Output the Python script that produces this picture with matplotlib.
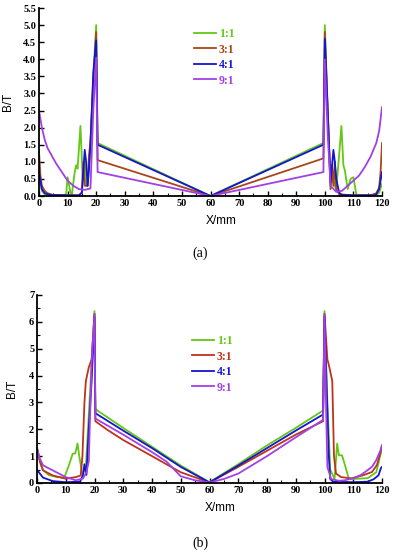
import numpy as np
import matplotlib.pyplot as plt
from matplotlib.ticker import MultipleLocator, FormatStrFormatter

# ratio labels and colours
labels = ["1:1", "3:1", "4:1", "9:1"]
colors_a = ["#62c814", "#a8461a", "#1414d2", "#a040e6"]
colors_b = ["#62c814", "#c0321a", "#1414d2", "#a040e6"]

# (a) flux density B/T along X/mm
xa_11 = [0, 1, 2, 4, 8, 9.5, 10, 11, 11.5, 12.5, 13, 13.5, 14.5, 15.3, 16, 16.5, 17, 18, 19, 20, 20.5,
         60, 99.5, 100, 101, 102, 103, 103.5, 104, 105, 105.8, 106.5, 107, 108, 109, 110, 111, 112, 118, 119, 120]
ya_11 = [0.6, 0.15, 0.05, 0.02, 0.02, 0.05, 0.55, 0.1, 0.05, 0.7, 0.9, 0.8, 2.05, 0.5, 1.0, 0.3, 0.3, 1.5, 3.5, 5.0, 1.55,
         0.0, 1.55, 5.0, 2.5, 0.3, 0.5, 0.3, 0.2, 1.2, 2.05, 0.9, 0.75, 0.2, 0.5, 0.55, 0.05, 0.02, 0.02, 0.1, 0.35]

xa_31 = [0, 0.5, 1, 2, 3, 5, 10, 14, 15, 15.5, 16, 17, 17.5, 18, 19, 20, 20.5,
         60, 99.5, 100, 101, 102, 102.5, 103, 103.5, 104, 105, 110, 116, 118, 119, 119.5, 120]
ya_31 = [1.3, 0.6, 0.3, 0.15, 0.08, 0.03, 0.02, 0.02, 0.1, 1.0, 0.3, 0.3, 1.2, 1.6, 3.3, 4.8, 1.05,
         0.0, 1.1, 4.8, 2.5, 0.2, 0.9, 0.3, 1.0, 0.2, 0.05, 0.02, 0.02, 0.08, 0.25, 0.7, 1.55]

xa_41 = [0, 1, 2, 4, 10, 14, 15, 16, 16.5, 17, 17.5, 18, 19, 20, 20.5,
         60, 99.5, 100, 101, 102, 103, 103.5, 104, 105, 106, 110, 117, 118, 119, 120]
ya_41 = [0.7, 0.2, 0.08, 0.03, 0.02, 0.02, 0.1, 1.35, 1.0, 0.3, 0.8, 1.5, 3.6, 4.55, 1.5,
         0.0, 1.5, 4.6, 2.5, 0.4, 1.35, 1.0, 0.5, 0.1, 0.03, 0.02, 0.02, 0.05, 0.2, 0.7]

xa_91 = [0, 1, 2, 3, 4, 5, 6, 8, 10, 12, 14, 16, 18, 19, 20, 20.5,
         60, 99.5, 100, 101, 102, 104, 106, 108, 110, 112, 114, 116, 118, 119, 120]
ya_91 = [2.5, 2.0, 1.65, 1.4, 1.25, 1.1, 0.95, 0.7, 0.45, 0.3, 0.2, 0.18, 0.22, 2.5, 4.05, 0.7,
         0.0, 0.7, 4.0, 1.8, 0.3, 0.12, 0.15, 0.3, 0.45, 0.6, 0.85, 1.15, 1.55, 1.9, 2.6]

# (b)
xb_11 = [0, 1, 2, 4, 7, 9.5, 11.3, 12.4, 13.3, 14.1, 14.7, 15.8, 17, 18, 19, 20, 20.3, 30, 40, 50,
         60, 70, 80, 90, 99.5, 100, 101, 102, 103.5, 104.4, 105, 106.1, 107.3, 108.4, 110, 115, 118, 120]
yb_11 = [1.3, 0.8, 0.5, 0.3, 0.22, 0.2, 0.72, 1.09, 1.1, 1.47, 1.0, 0.3, 0.6, 2.5, 4.5, 6.4, 2.75, 2.05, 1.35, 0.65,
         0.03, 0.7, 1.4, 2.05, 2.7, 6.4, 3.0, 0.5, 0.15, 1.47, 1.03, 1.03, 0.6, 0.17, 0.15, 0.18, 0.4, 1.3]

xb_31 = [0, 1, 2.1, 5.5, 10, 13.5, 15.2, 15.8, 16.5, 17, 18, 19, 20, 20.3, 24.6, 30, 40, 50,
         60, 70, 80, 90, 99.5, 100, 101, 101.5, 102.7, 103.3, 104, 105.8, 109.3, 113.5, 116.5, 118.2, 119.4, 120]
yb_31 = [1.3, 0.8, 0.47, 0.28, 0.16, 0.22, 0.28, 1.0, 3.0, 3.8, 4.3, 4.6, 6.3, 2.3, 1.97, 1.6, 1.0, 0.4,
         0.02, 0.6, 1.2, 1.8, 2.3, 6.3, 4.6, 4.4, 3.8, 1.0, 0.35, 0.22, 0.17, 0.29, 0.41, 0.66, 1.1, 1.4]

xb_41 = [0, 1, 2.1, 5.5, 10, 15, 16, 16.5, 17.2, 18, 19, 20, 20.3, 30, 40, 50,
         60, 70, 80, 90, 99.5, 100, 100.7, 101.5, 102, 103, 110, 115, 117.1, 118.8, 119.6, 120]
yb_41 = [0.5, 0.35, 0.2, 0.07, 0.03, 0.05, 0.3, 0.7, 0.3, 2.0, 3.8, 6.2, 2.6, 1.95, 1.3, 0.6,
         0.02, 0.65, 1.3, 1.95, 2.55, 6.2, 3.7, 1.0, 0.15, 0.05, 0.03, 0.05, 0.14, 0.29, 0.55, 0.6]

xb_91 = [0, 1, 2.1, 4, 5.5, 8, 10, 13.5, 16, 17.2, 18, 19, 20, 20.3, 30, 40, 45, 50, 55,
         60, 65, 70, 80, 90, 99.5, 100, 100.6, 101, 102.3, 105, 107, 110, 112.5, 114, 116.5, 118, 119.4, 120]
yb_91 = [1.3, 0.9, 0.66, 0.55, 0.47, 0.33, 0.22, 0.1, 0.17, 0.4, 0.8, 4.5, 6.3, 2.4, 1.8, 1.15, 0.8, 0.25, 0.1,
         0.02, 0.15, 0.35, 1.0, 1.7, 2.35, 6.3, 2.5, 0.6, 0.15, 0.08, 0.1, 0.18, 0.29, 0.4, 0.6, 0.85, 1.2, 1.4]

serif = "Liberation Serif"
sans = "Liberation Sans"

fig = plt.figure(figsize=(3.94, 5.5), dpi=100)
W, H = 394.0, 550.0


def make_axes(left, right, top, bottom):
    return fig.add_axes([left / W, 1 - bottom / H, (right - left) / W, (bottom - top) / H])


def style(ax, ymax, ymajor, yminor, fmt):
    ax.set_xlim(0, 120)
    ax.set_ylim(0, ymax)
    for s in ["top", "right"]:
        ax.spines[s].set_visible(False)
    for s in ["left", "bottom"]:
        ax.spines[s].set_linewidth(1.3)
    ax.xaxis.set_major_locator(MultipleLocator(10))
    ax.xaxis.set_minor_locator(MultipleLocator(5))
    ax.yaxis.set_major_locator(MultipleLocator(ymajor))
    ax.yaxis.set_minor_locator(MultipleLocator(yminor))
    ax.yaxis.set_major_formatter(FormatStrFormatter(fmt))
    ax.tick_params(which="major", direction="in", length=3.5, width=1.0, pad=2)
    ax.tick_params(which="minor", direction="in", length=2, width=0.8)
    for t in ax.get_xticklabels() + ax.get_yticklabels():
        t.set_fontfamily(serif)
        t.set_fontweight("bold")
        t.set_fontsize(7.5)
    ax.set_xlabel("X/mm", fontfamily=sans, fontsize=8.5)
    ax.set_ylabel("B/T", fontfamily=sans, fontsize=8.5)


def add_legend(ax, lines, colors, x, y):
    leg = ax.legend(lines, labels, loc="upper left", bbox_to_anchor=(x / W, 1 - y / H),
                    bbox_transform=fig.transFigure, frameon=False, borderpad=0,
                    borderaxespad=0, handlelength=1.9, handletextpad=0.2, labelspacing=0.3,
                    prop={"family": serif, "weight": "bold", "size": 8.5})
    for txt, c in zip(leg.get_texts(), colors):
        txt.set_color(c)


# ---- (a)
ax1 = make_axes(39, 382, 8, 196)
series_a = [(xa_11, ya_11), (xa_31, ya_31), (xa_41, ya_41), (xa_91, ya_91)]
lines_a = []
for (x, y), c in zip(series_a, colors_a):
    ln, = ax1.plot(x, y, color=c, lw=1.3)
    lines_a.append(ln)
style(ax1, 5.5, 0.5, 0.5, "%.1f")
ax1.xaxis.set_label_coords(0.53, -0.1)
ax1.yaxis.set_label_coords(-0.072, 0.5)
add_legend(ax1, lines_a, colors_a, 194, 28)
fig.text(200 / W, 1 - 253 / H, "(a)", ha="center", va="center", fontfamily=serif, fontsize=10)

# ---- (b)
ax2 = make_axes(37, 382, 295, 483)
series_b = [(xb_11, yb_11), (xb_31, yb_31), (xb_41, yb_41), (xb_91, yb_91)]
lines_b = []
for (x, y), c in zip(series_b, colors_b):
    ln, = ax2.plot(x, y, color=c, lw=1.3)
    lines_b.append(ln)
style(ax2, 7, 1, 0.5, "%d")
ax2.xaxis.set_label_coords(0.53, -0.1)
ax2.yaxis.set_label_coords(-0.055, 0.5)
add_legend(ax2, lines_b, colors_b, 192, 335)
fig.text(200 / W, 1 - 543 / H, "(b)", ha="center", va="center", fontfamily=serif, fontsize=10)

fig.savefig("out.png", dpi=100)
